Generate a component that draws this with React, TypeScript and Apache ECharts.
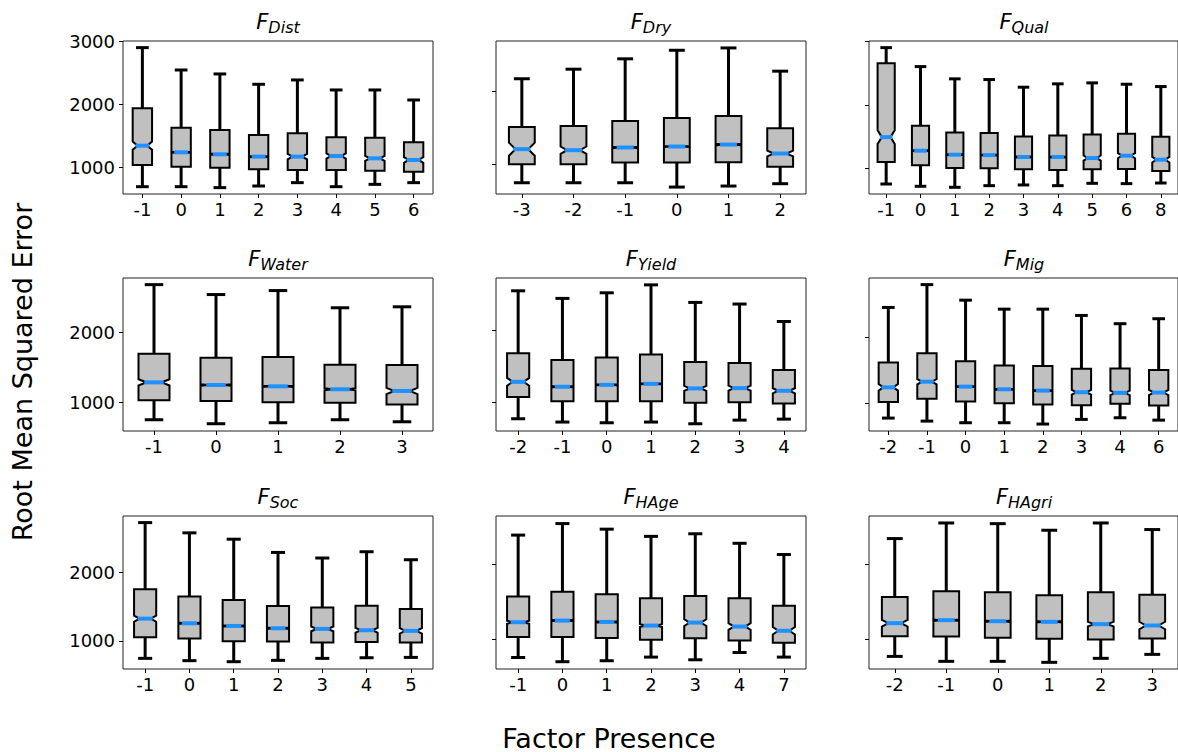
import React, { useEffect, useRef } from 'react';
import * as echarts from 'echarts';

// Each box: [lowWhisker, q1, median, q3, highWhisker, notchHalfHeight]
const panelNames = ['Dist', 'Dry', 'Qual', 'Water', 'Yield', 'Mig', 'Soc', 'HAge', 'HAgri'];

const distCats = ['-1', '0', '1', '2', '3', '4', '5', '6'];
const distBoxes = [
  [698, 1042, 1349, 1942, 2905, 65],
  [698, 1016, 1243, 1635, 2550, 10],
  [683, 1000, 1212, 1598, 2487, 12],
  [709, 974, 1175, 1519, 2323, 12],
  [762, 963, 1175, 1545, 2392, 42],
  [698, 963, 1185, 1481, 2233, 40],
  [735, 952, 1148, 1476, 2233, 40],
  [762, 937, 1122, 1402, 2074, 45],
];

const dryCats = ['-3', '-2', '-1', '0', '1', '2'];
const dryBoxes = [
  [745, 1000, 1205, 1509, 2169, 90],
  [745, 1000, 1191, 1523, 2300, 50],
  [745, 1023, 1228, 1591, 2442, 10],
  [686, 1023, 1241, 1632, 2559, 8],
  [700, 1027, 1268, 1659, 2591, 12],
  [732, 964, 1145, 1491, 2273, 40],
];

const qualCats = ['-1', '0', '1', '2', '3', '4', '5', '6', '8'];
const qualBoxes = [
  [747, 1095, 1489, 2658, 2905, 110],
  [711, 1042, 1274, 1668, 2605, 10],
  [695, 1000, 1211, 1563, 2411, 10],
  [721, 995, 1205, 1553, 2400, 10],
  [732, 979, 1174, 1500, 2279, 12],
  [721, 968, 1174, 1516, 2332, 10],
  [758, 979, 1158, 1532, 2347, 40],
  [753, 984, 1195, 1542, 2326, 40],
  [763, 953, 1132, 1495, 2289, 45],
];

const waterCats = ['-1', '0', '1', '2', '3'];
const waterBoxes = [
  [749, 1028, 1284, 1692, 2682, 45],
  [692, 1019, 1246, 1635, 2540, 10],
  [706, 1000, 1227, 1645, 2597, 10],
  [749, 991, 1185, 1536, 2351, 15],
  [720, 967, 1161, 1531, 2365, 45],
];

const yieldCats = ['-2', '-1', '0', '1', '2', '3', '4'];
const yieldBoxes = [
  [770, 1074, 1286, 1687, 2558, 55],
  [724, 1014, 1217, 1590, 2452, 10],
  [714, 1014, 1244, 1627, 2530, 10],
  [724, 1014, 1258, 1668, 2641, 10],
  [700, 995, 1194, 1562, 2396, 35],
  [751, 1000, 1198, 1548, 2373, 35],
  [765, 982, 1161, 1452, 2129, 35],
];

const migCats = ['-2', '-1', '0', '1', '2', '3', '4', '6'];
const migBoxes = [
  [773, 1020, 1242, 1621, 2460, 50],
  [727, 1066, 1328, 1763, 2808, 40],
  [702, 1025, 1253, 1641, 2571, 10],
  [702, 1000, 1212, 1576, 2434, 10],
  [682, 980, 1192, 1566, 2434, 10],
  [753, 970, 1167, 1525, 2338, 35],
  [778, 990, 1157, 1530, 2212, 35],
  [742, 965, 1162, 1505, 2288, 40],
];

const socCats = ['-1', '0', '1', '2', '3', '4', '5'];
const socBoxes = [
  [743, 1053, 1325, 1757, 2733, 45],
  [709, 1034, 1257, 1650, 2583, 10],
  [694, 995, 1218, 1597, 2490, 10],
  [714, 990, 1184, 1510, 2296, 12],
  [743, 976, 1175, 1490, 2214, 35],
  [752, 981, 1155, 1515, 2306, 35],
  [757, 976, 1146, 1466, 2189, 40],
];

const hageCats = ['-1', '0', '1', '2', '3', '4', '7'];
const hageBoxes = [
  [752, 1027, 1226, 1571, 2398, 20],
  [695, 1027, 1248, 1637, 2553, 10],
  [708, 1013, 1230, 1602, 2478, 10],
  [757, 991, 1181, 1549, 2381, 20],
  [721, 1009, 1221, 1580, 2416, 45],
  [819, 982, 1168, 1549, 2288, 45],
  [757, 951, 1111, 1447, 2137, 50],
];

const hagriCats = ['-2', '-1', '0', '1', '2', '3'];
const hagriBoxes = [
  [774, 1044, 1217, 1566, 2345, 45],
  [708, 1040, 1257, 1642, 2553, 10],
  [708, 1022, 1243, 1628, 2544, 10],
  [695, 1009, 1235, 1588, 2456, 10],
  [748, 1000, 1204, 1628, 2553, 30],
  [801, 1013, 1186, 1597, 2465, 50],
];

const panelCats = [distCats, dryCats, qualCats, waterCats, yieldCats, migCats, socCats, hageCats, hagriCats];
const panelBoxes = [distBoxes, dryBoxes, qualBoxes, waterBoxes, yieldBoxes, migBoxes, socBoxes, hageBoxes, hagriBoxes];

const panelYMin = [582, 591, 589, 588, 599, 576, 587, 597, 606];
const panelYMax = [3010, 2686, 3010, 2777, 2737, 2909, 2830, 2655, 2646];
const yTickValues = [1000, 2000, 3000];

const xTitle = 'Factor Presence';
const yTitle = 'Root Mean Squared Error';

const FONT = 'DejaVu Sans';
const colLeft = [123, 496, 869];
const rowTop = [41, 278, 516];
const panelW = 310;
const panelH = 153;

function renderBox(params: any, api: any) {
  const idx = api.value(0);
  const low = api.value(1);
  const q1 = api.value(2);
  const med = api.value(3);
  const q3 = api.value(4);
  const high = api.value(5);
  const notch = api.value(6);
  const band = api.size([1, 0])[0];
  const bw = band * 0.5;
  const half = bw / 2;
  const nh = bw / 4;
  const cx = api.coord([idx, med])[0];
  const y = (v: number) => api.coord([idx, v])[1];
  const yLow = y(low), yQ1 = y(q1), yMed = y(med), yQ3 = y(q3), yHigh = y(high);
  const yLo = y(med - notch), yHi = y(med + notch);
  const wStyle = { stroke: '#000', lineWidth: 3, fill: null };
  return {
    type: 'group',
    children: [
      { type: 'line', shape: { x1: cx, y1: yQ1, x2: cx, y2: yLow }, style: wStyle },
      { type: 'line', shape: { x1: cx, y1: yQ3, x2: cx, y2: yHigh }, style: wStyle },
      { type: 'line', shape: { x1: cx - nh - 1.5, y1: yLow, x2: cx + nh + 1.5, y2: yLow }, style: wStyle },
      { type: 'line', shape: { x1: cx - nh - 1.5, y1: yHigh, x2: cx + nh + 1.5, y2: yHigh }, style: wStyle },
      {
        type: 'polygon',
        shape: {
          points: [
            [cx - half, yQ1], [cx + half, yQ1], [cx + half, yLo], [cx + nh, yMed],
            [cx + half, yHi], [cx + half, yQ3], [cx - half, yQ3], [cx - half, yHi],
            [cx - nh, yMed], [cx - half, yLo],
          ],
        },
        style: { fill: '#C0C0C0', stroke: '#000', lineWidth: 2, lineJoin: 'miter' },
      },
      { type: 'line', shape: { x1: cx - nh - 2, y1: yMed, x2: cx + nh + 2, y2: yMed }, style: { stroke: '#1E90FF', lineWidth: 4 } },
    ],
  };
}

export default function App() {
  const ref = useRef<HTMLDivElement>(null);
  useEffect(() => {
    if (!ref.current) return;
    const chart = echarts.init(ref.current, null, { renderer: 'svg' });
    const grids: any[] = [];
    const xAxes: any[] = [];
    const yAxes: any[] = [];
    const series: any[] = [];
    const graphics: any[] = [];
    for (let p = 0; p < 9; p++) {
      const r = Math.floor(p / 3);
      const c = p % 3;
      const left = colLeft[c];
      const top = rowTop[r];
      grids.push({ left, top, width: panelW, height: panelH, show: true, borderColor: '#222', borderWidth: 1, backgroundColor: 'transparent', containLabel: false });
      xAxes.push({
        type: 'category', gridIndex: p, data: panelCats[p], boundaryGap: true,
        axisLine: { show: false },
        axisTick: { show: true, alignWithLabel: true, length: 4, lineStyle: { color: '#000', width: 1 } },
        axisLabel: { show: true, interval: 0, color: '#000', fontFamily: FONT, fontSize: 18, margin: 6 },
        splitLine: { show: false },
      });
      const ticks = yTickValues.filter((v) => v >= panelYMin[p] && v <= panelYMax[p]);
      yAxes.push({
        type: 'value', gridIndex: p, min: panelYMin[p], max: panelYMax[p],
        axisLine: { show: false },
        axisTick: { show: true, length: 4, lineStyle: { color: '#000', width: 1 }, customValues: ticks },
        axisLabel: { show: c === 0, color: '#000', fontFamily: FONT, fontSize: 18, margin: 8, customValues: ticks, formatter: (v: number) => String(Math.round(v)) },
        splitLine: { show: false },
      });
      series.push({
        type: 'custom', xAxisIndex: p, yAxisIndex: p,
        renderItem: renderBox,
        encode: { x: 0, y: [1, 2, 3, 4, 5] },
        data: panelBoxes[p].map((b, i) => [i, ...b]),
        clip: false,
      });
      graphics.push({
        type: 'text', x: left + panelW / 2, y: top - 30,
        style: {
          text: '{f|F}{s|' + panelNames[p] + '}',
          align: 'center', verticalAlign: 'top', textAlign: 'center', textVerticalAlign: 'top',
          rich: {
            f: { fontFamily: FONT, fontStyle: 'italic', fontSize: 21, lineHeight: 22, verticalAlign: 'top', fill: '#000', color: '#000' },
            s: { fontFamily: FONT, fontStyle: 'italic', fontSize: 16, lineHeight: 16, padding: [8, 0, 0, 0], verticalAlign: 'top', fill: '#000', color: '#000' },
          },
        },
      });
    }
    graphics.push({
      type: 'text', x: 22, y: 372, rotation: Math.PI / 2,
      style: { text: yTitle, fontFamily: FONT, fontSize: 27, fill: '#000', align: 'center', verticalAlign: 'middle', textAlign: 'center', textVerticalAlign: 'middle' },
    });
    graphics.push({
      type: 'text', x: 609, y: 738,
      style: { text: xTitle, fontFamily: FONT, fontSize: 27, fill: '#000', align: 'center', verticalAlign: 'middle', textAlign: 'center', textVerticalAlign: 'middle' },
    });
    chart.setOption({
      animation: false,
      backgroundColor: '#fff',
      grid: grids,
      xAxis: xAxes,
      yAxis: yAxes,
      series,
      graphic: graphics,
    });
    return () => chart.dispose();
  }, []);
  return <div ref={ref} style={{ position: 'fixed', left: 0, top: 0, width: 1178, height: 752, background: '#fff' }} />;
}
